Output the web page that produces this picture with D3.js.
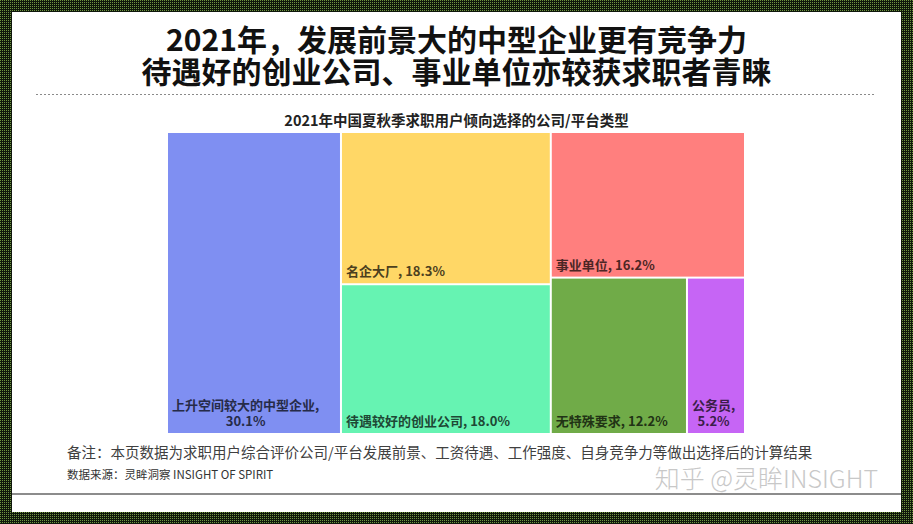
<!DOCTYPE html>
<html><head><meta charset="utf-8">
<script src="https://cdn.jsdelivr.net/npm/d3@7"></script>
<style>body{margin:0;background:#fff;} svg{display:block;}</style>
</head><body>
<svg id="c" width="913" height="524"></svg>
<script>
const categories = ["上升空间较大的中型企业", "名企大厂", "待遇较好的创业公司", "事业单位", "无特殊要求", "公务员"];
const values = [30.1, 18.3, 18.0, 16.2, 12.2, 5.2];
const titleLines = ["2021年，发展前景大的中型企业更有竞争力", "待遇好的创业公司、事业单位亦较获求职者青睐"];
const subtitle = "2021年中国夏秋季求职用户倾向选择的公司/平台类型";
const note = "备注：本页数据为求职用户综合评价公司/平台发展前景、工资待遇、工作强度、自身竞争力等做出选择后的计算结果";
const source = "数据来源：灵眸洞察 INSIGHT OF SPIRIT";
const watermark = "知乎 @灵眸INSIGHT";
const palette = ["#7f8ff2", "#ffd766", "#66f3b2", "#ff7f7e", "#70ab48", "#c665f5"];

const W = 913, H = 524;
const FONT = "'Noto Sans CJK SC', 'Microsoft YaHei', sans-serif";
const svg = d3.select("#c");

// frame pattern
const defs = svg.append("defs");
const pat = defs.append("pattern").attr("id", "frame").attr("width", 2).attr("height", 2)
  .attr("patternUnits", "userSpaceOnUse");
pat.append("rect").attr("width", 2).attr("height", 2).attr("fill", "#0f170b");
pat.append("rect").attr("width", 1).attr("height", 1).attr("fill", "#6f9440");

svg.append("rect").attr("width", W).attr("height", H).attr("fill", "url(#frame)");
svg.append("rect").attr("x", 12).attr("y", 12).attr("width", 901 - 12).attr("height", 512 - 12).attr("fill", "#fff");

// title (one text, two lines)
const title = svg.append("text")
  .attr("text-anchor", "middle")
  .attr("font-family", FONT).attr("font-weight", "bold").attr("font-size", 30)
  .attr("fill", "#111");
title.selectAll("tspan").data(titleLines).join("tspan")
  .attr("x", 456.5).attr("y", (d, i) => 51 + i * 32).text(d => d);

svg.append("line").attr("x1", 36).attr("x2", 874).attr("y1", 94.5).attr("y2", 94.5)
  .attr("stroke", "#8a8a8a").attr("stroke-width", 1).attr("stroke-dasharray", "2,2");

svg.append("text").attr("x", 456.5).attr("y", 119).attr("dominant-baseline", "central")
  .attr("text-anchor", "middle").attr("font-family", FONT).attr("font-weight", "bold")
  .attr("font-size", 14.5).attr("fill", "#222").text(subtitle);

// treemap
const rootData = {children: categories.map((c, i) => ({name: c, value: values[i]}))};
const root = d3.hierarchy(rootData).sum(d => d.value || 0).sort((a, b) => b.value - a.value);
const x0 = 168, y0 = 133, x1 = 744, y1 = 433;
d3.treemap().tile(d3.treemapSquarify.ratio(1)).size([x1 - x0, y1 - y0]).paddingInner(2)(root);

const color = d3.scaleOrdinal().domain(categories).range(palette);
const fmt = d3.format(".1f");

const g = svg.append("g").attr("transform", `translate(${x0},${y0})`);
const cell = g.selectAll("g.cell").data(root.leaves()).join("g").attr("class", "cell");
cell.append("rect")
  .attr("x", d => d.x0).attr("y", d => d.y0)
  .attr("width", d => d.x1 - d.x0).attr("height", d => d.y1 - d.y0)
  .attr("fill", d => color(d.data.name));

cell.each(function(d) {
  const sel = d3.select(this);
  const tc = d3.color(color(d.data.name)).darker(3.4).formatHex();
  const t = sel.append("text").attr("font-family", FONT).attr("font-weight", "bold")
    .attr("font-size", 13).attr("fill", tc);
  const s1 = t.append("tspan").attr("x", d.x0 + 4).attr("y", d.y1 - 7)
    .text(d.data.name + ", " + fmt(d.data.value) + "%");
  const avail = d.x1 - d.x0 - 6;
  if (s1.node().getComputedTextLength() > avail) {
    s1.text(d.data.name + ",").attr("y", d.y1 - 23);
    const len = s1.node().getComputedTextLength();
    t.append("tspan").attr("x", d.x0 + 4 + len / 2).attr("y", d.y1 - 7)
      .attr("text-anchor", "middle").text(fmt(d.data.value) + "%");
  }
});

// footer
svg.append("text").attr("x", 67).attr("y", 451).attr("dominant-baseline", "central")
  .attr("font-family", FONT).attr("font-size", 14.5).attr("fill", "#404040").text(note);
svg.append("text").attr("x", 67).attr("y", 474).attr("dominant-baseline", "central")
  .attr("font-family", FONT).attr("font-size", 11.5).attr("fill", "#333").text(source);
svg.append("text").attr("x", 878).attr("y", 477).attr("dominant-baseline", "central")
  .attr("text-anchor", "end").attr("font-family", FONT).attr("font-weight", 300)
  .attr("font-size", 25).attr("fill", "#c8c8c8").text(watermark);

svg.append("line").attr("x1", 12).attr("x2", 901).attr("y1", 494).attr("y2", 494)
  .attr("stroke", "#8c8c8c").attr("stroke-width", 2);
</script>
</body></html>
